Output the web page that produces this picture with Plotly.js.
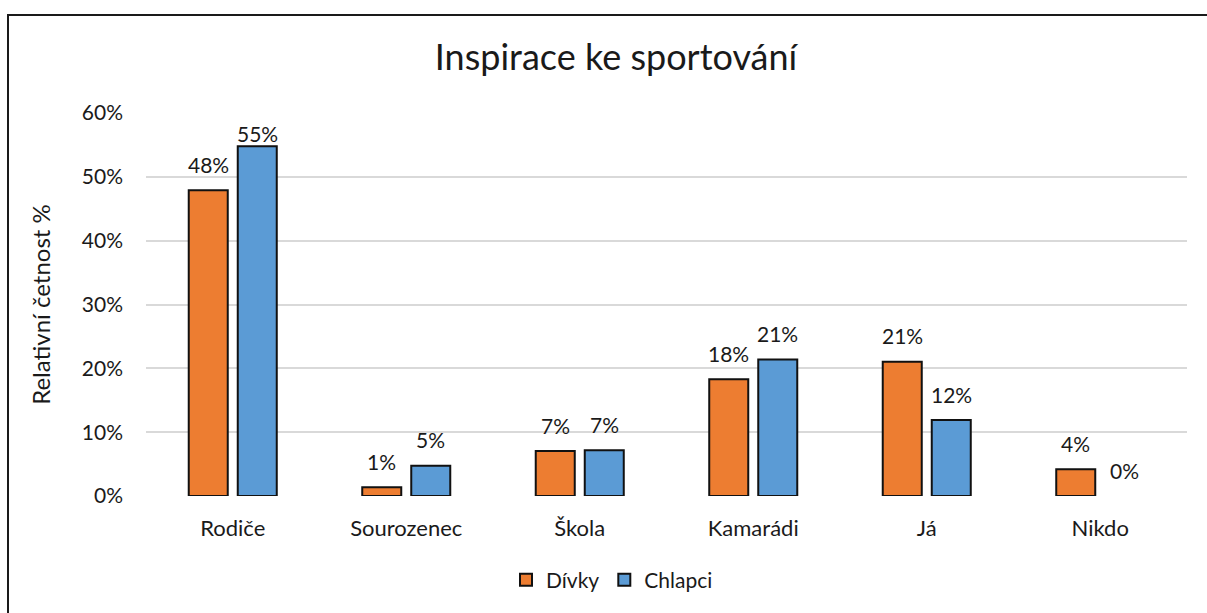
<!DOCTYPE html>
<html>
<head>
<meta charset="utf-8">
<script src="https://cdn.plot.ly/plotly-3.0.1.min.js"></script>
<style>
html,body{margin:0;padding:0;background:#fff;overflow:hidden;}
#wrap{position:relative;width:1207px;height:613px;}
#chart{position:absolute;left:0;top:0;width:1207px;height:613px;}
#frame{position:absolute;left:7px;top:14px;width:1240px;height:640px;border:2px solid #1a1a1a;box-sizing:border-box;pointer-events:none;}
</style>
</head>
<body>
<div id="wrap"><div id="chart"></div><div id="frame"></div></div>
<script>
const categories = ["Rodiče", "Sourozenec", "Škola", "Kamarádi", "Já", "Nikdo"];
const divky = [0.479, 0.0136, 0.0705, 0.183, 0.2105, 0.042];
const chlapci = [0.548, 0.0475, 0.0715, 0.214, 0.119, 0.0];
const seriesNames = ["Dívky", "Chlapci"];
const seriesColors = ["#ED7D31", "#5B9BD5"];
const yTicks = [0, 0.1, 0.2, 0.3, 0.4, 0.5, 0.6];
const yTickText = ["0%", "10%", "20%", "30%", "40%", "50%", "60%"];

const FONT = "Lato, 'Open Sans', sans-serif";
const TXT = "#1a1a1a";
const series = [divky, chlapci];
const Y_MAX = 0.6;
const PLOT_H = 613 - 113 - 117;

const data = series.map((vals, i) => ({
  type: "bar",
  name: seriesNames[i],
  x: categories,
  y: vals,
  marker: {color: seriesColors[i], line: {color: "#111", width: vals.map(v => v > 0 ? 2 : 0)}},
  hoverinfo: "skip"
}));

// data labels above bars, kept inside the plot area like the original
const barOffsetPx = 24.5;
const annotations = [];
series.forEach((vals, i) => {
  vals.forEach((v, j) => {
    const roomPx = (Y_MAX - v) / Y_MAX * PLOT_H;
    annotations.push({
      x: categories[j], y: v, xref: "x", yref: "y",
      text: Math.round(v * 100) + "%",
      showarrow: false,
      xshift: (i === 0 ? -1 : 1) * barOffsetPx,
      yshift: Math.min(26, roomPx - 21),
      yanchor: "middle", xanchor: "center",
      font: {family: FONT, size: 21, color: TXT}
    });
  });
});

const layout = {
  width: 1207, height: 613,
  margin: {l: 146, r: 20, t: 113, b: 117},
  paper_bgcolor: "#fff", plot_bgcolor: "#fff",
  font: {family: FONT, color: TXT},
  title: {text: "Inspirace ke sportování", font: {family: FONT, size: 36, color: TXT},
    xref: "container", x: 616/1207, xanchor: "center", yref: "container", y: 1 - 57/613, yanchor: "middle"},
  barmode: "group",
  bargap: 0.435,
  bargroupgap: 0.204,
  showlegend: true,
  legend: {orientation: "h", xref: "container", yref: "container", x: 612/1207, xanchor: "center",
    y: 1 - 580/613, yanchor: "middle", font: {family: FONT, size: 21, color: TXT},
    itemwidth: 30, traceorder: "normal"},
  annotations: annotations,
  xaxis: {type: "category", showgrid: false, showline: false, zeroline: false,
    ticks: "", tickfont: {family: FONT, size: 22, color: TXT}, ticklabelstandoff: 17},
  yaxis: {range: [0, Y_MAX], tickvals: yTicks, ticktext: yTickText, showgrid: true,
    gridcolor: "#d9d9d9", gridwidth: 2, zeroline: false, showline: false, ticks: "",
    tickfont: {family: FONT, size: 21, color: TXT}, ticklabelstandoff: 22,
    title: {text: "Relativní četnost %", font: {family: FONT, size: 24, color: TXT}, standoff: 24}}
};
Plotly.newPlot("chart", data, layout, {displayModeBar: false, staticPlot: true});
</script>
</body>
</html>
